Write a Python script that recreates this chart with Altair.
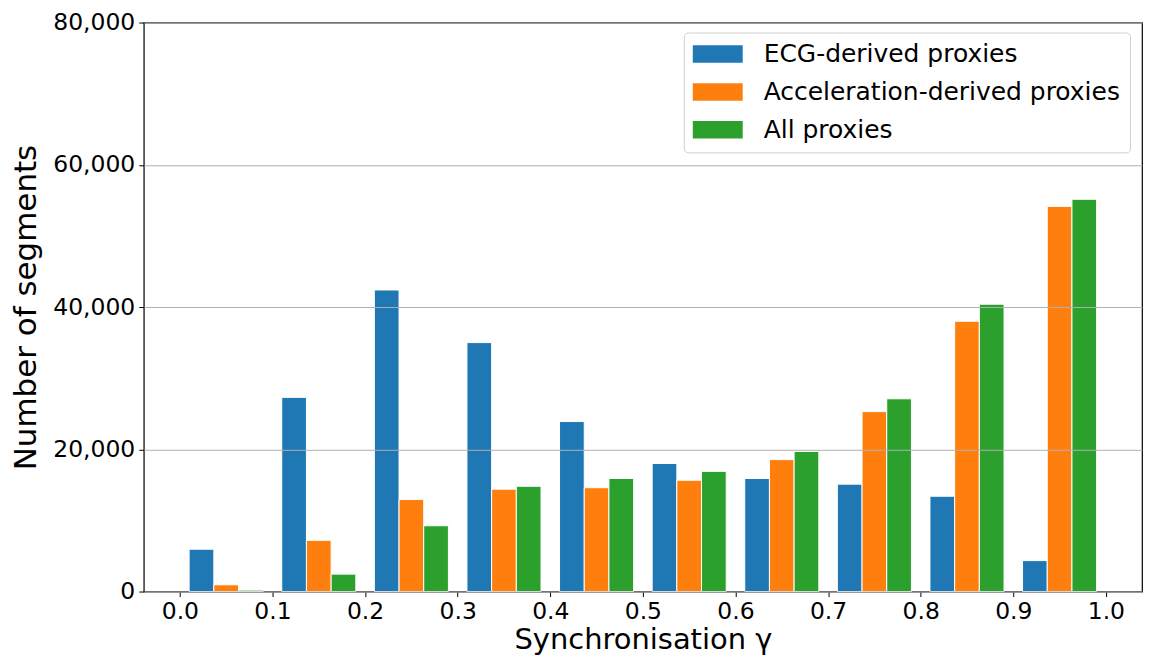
import altair as alt
import pandas as pd

bin_lower = [0.0, 0.1, 0.2, 0.3, 0.4, 0.5, 0.6, 0.7, 0.8, 0.9]
series = ["ECG-derived proxies", "Acceleration-derived proxies", "All proxies"]
ecg = [5950, 27300, 42400, 35000, 23900, 18000, 15900, 15100, 13400, 4350]
acc = [950, 7200, 12950, 14400, 14600, 15650, 18550, 25300, 38000, 54150]
allp = [200, 2450, 9250, 14800, 15900, 16900, 19700, 27100, 40400, 55150]
colors = ["#1f77b4", "#ff7f0e", "#2ca02c"]
x_ticks = [0.0, 0.1, 0.2, 0.3, 0.4, 0.5, 0.6, 0.7, 0.8, 0.9, 1.0]
y_ticks = [0, 20000, 40000, 60000, 80000]

# matplotlib-style multi-dataset histogram layout
bin_width = 0.1
rwidth = 0.8
bar_w = bin_width * rwidth / len(series)
offset = bin_width * (1 - rwidth) / 2
rows = []
for k, (name, vals) in enumerate(zip(series, [ecg, acc, allp])):
    for lo, v in zip(bin_lower, vals):
        x0 = lo + offset + k * bar_w
        rows.append(dict(series=name, x0=x0, x1=x0 + bar_w, count=v, base=0))
df = pd.DataFrame(rows)

FONT = "DejaVu Sans"

chart = alt.Chart(df).mark_bar(stroke="white", strokeWidth=1).encode(
    x=alt.X(
        "x0:Q",
        scale=alt.Scale(domain=[-0.039, 1.039], nice=False, zero=False),
        axis=alt.Axis(
            values=x_ticks, format=".1f", title="Synchronisation γ", grid=False,
            labelFontSize=23.5, titleFontSize=29, labelFont=FONT, titleFont=FONT,
            labelColor="#000", titleColor="#000", tickColor="#000", tickSize=5,
            labelPadding=3, titlePadding=3, domain=False, titleFontWeight="normal",
            labelFlush=False,
        ),
    ),
    x2="x1",
    y=alt.Y(
        "count:Q",
        scale=alt.Scale(domain=[0, 80000], nice=False),
        axis=alt.Axis(
            values=y_ticks, format=",d", title="Number of segments", grid=True,
            gridColor="#b0b0b0", gridWidth=1, zindex=1,
            labelFontSize=23.5, titleFontSize=31, labelFont=FONT, titleFont=FONT,
            labelColor="#000", titleColor="#000", tickColor="#000", tickSize=5,
            labelPadding=4, titlePadding=10, domain=False, titleFontWeight="normal",
            labelFlush=False,
        ),
    ),
    y2="base:Q",
    color=alt.Color(
        "series:N",
        sort=series,
        scale=alt.Scale(domain=series, range=colors),
        legend=alt.Legend(
            title=None, orient="none", legendX=541, legendY=10,
            fillColor="white", strokeColor="#d0d0d0", cornerRadius=4, padding=9,
            symbolType="M-1,-0.7L3,-0.7L3,0.7L-1,0.7Z", symbolSize=625,
            symbolStrokeWidth=0, symbolOpacity=1,
            labelFontSize=25, labelFont=FONT, labelColor="#000", labelOffset=46,
            rowPadding=12, labelLimit=500,
        ),
    ),
).properties(
    width=1000, height=570,
    autosize=alt.AutoSizeParams(type="none"),
    padding={"left": 136, "top": 14, "right": 5, "bottom": 66},
).configure_view(stroke="#000", strokeWidth=1.2)

chart.save("out.html", embed_options={"renderer": "svg", "actions": False})
